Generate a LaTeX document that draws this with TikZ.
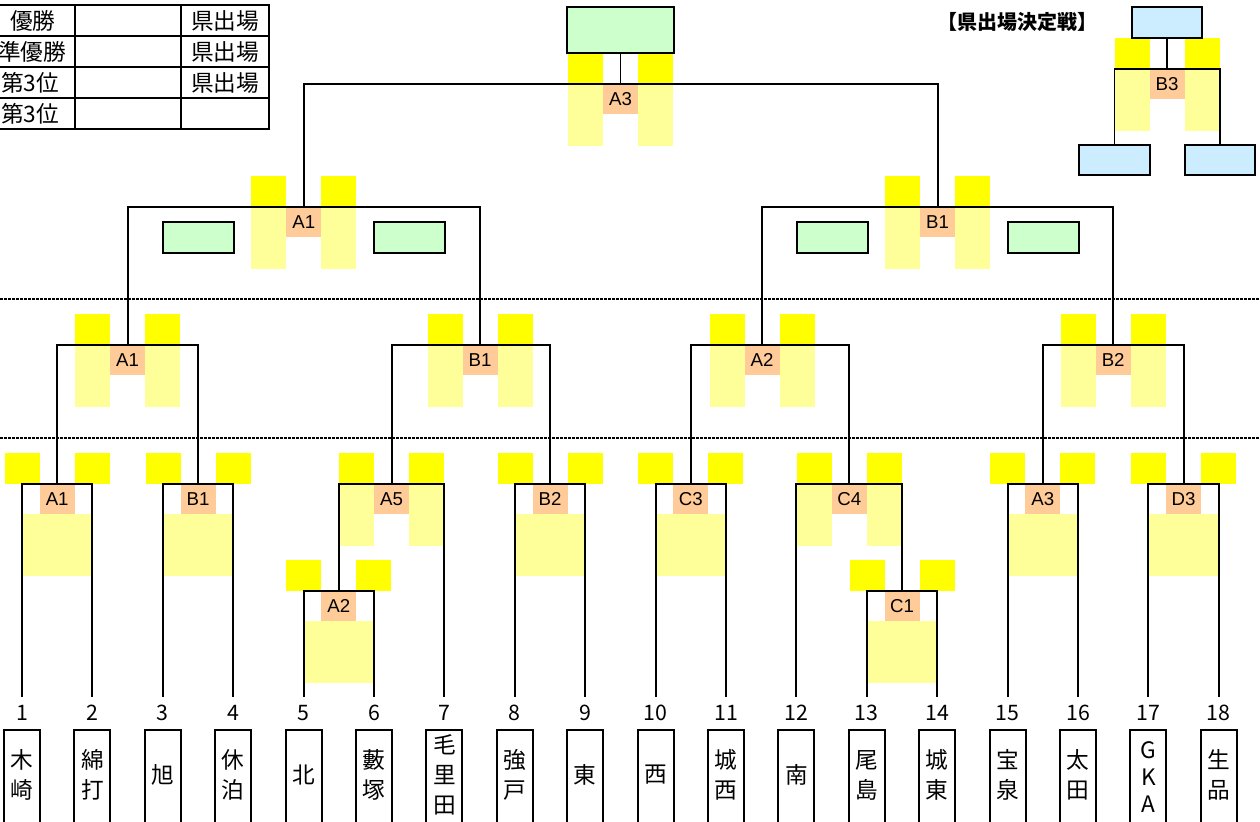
\documentclass[tikz,border=0pt]{standalone}
\usepackage{fontspec}
\setmainfont{Liberation Sans}
\newfontfamily\jp{Noto Sans CJK JP}
\definecolor{ylw}{HTML}{FFFF00}
\definecolor{pale}{HTML}{FFFF99}
\definecolor{lab}{HTML}{FFCC99}
\definecolor{grn}{HTML}{CCFFCC}
\definecolor{blu}{HTML}{CCECFF}
\newcommand\mtch[4]{%
  \fill[ylw] ({#2-52.5},{#3-31}) rectangle ({#2-17.5},#3);
  \fill[ylw] ({#2+17.5},{#3-31}) rectangle ({#2+52.5},#3);
  \fill[lab] ({#2-17.5},#3) rectangle ({#2+17.5},{#3+30});
  \coordinate (#1) at (#2,#3);
  \node[lbl] (#1L) at (#2,{#3+15}) {#4};}
\newcommand\paleU[2]{%
  \fill[pale] ({#1-52.5},#2) rectangle ({#1-17.5},{#2+62});
  \fill[pale] ({#1+17.5},#2) rectangle ({#1+52.5},{#2+62});}
\newcommand\paleL[3]{%
  \fill[pale] (#1,{#3+30}) rectangle (#2,{#3+92});}
\begin{document}
\begin{tikzpicture}[x=0.75pt,y=-0.75pt,
  ln/.style={line width=1.4pt,line join=miter},
  lbl/.style={font=\fontsize{14}{14}\selectfont,inner sep=0pt},
  nm/.style={font=\jp\fontsize{17}{22.5}\selectfont,align=center,inner sep=0pt},
  num/.style={font=\jp\fontsize{16}{16}\selectfont,inner sep=0pt},
  tbl/.style={font=\jp\fontsize{17}{17}\selectfont,inner sep=0pt},
  gbox/.style={draw,fill=grn,line width=1.4pt,inner sep=0pt,minimum width=53.25pt,minimum height=23.25pt},
  bbox/.style={draw,fill=blu,line width=1.4pt,inner sep=0pt,minimum width=53pt,minimum height=23pt},
  dotln/.style={line width=1.5pt,dash pattern=on 2.25pt off 0.75pt}]
\useasboundingbox (0,0) rectangle (1260,821);
\fill[white] (0,0) rectangle (1260,821);

% ---------- team coordinates
\foreach \i in {1,...,18} {\coordinate (T\i) at ({22+(\i-1)*70.4},697);}

% ---------- pale fills
\paleL{22}{92.4}{484}
\paleL{162.8}{233.2}{484}
\paleL{303.6}{374}{591}
\paleL{514.8}{585.2}{484}
\paleL{655.6}{726}{484}
\paleL{866.8}{937.2}{591}
\paleL{1007.6}{1078}{484}
\paleL{1148.4}{1218.8}{484}
\paleU{391.6}{484}
\paleU{849.2}{484}
\paleU{127.6}{345}
\paleU{480}{345}
\paleU{762}{345}
\paleU{1113.2}{345}
\paleU{303.8}{207}
\paleU{937.6}{207}
\paleU{620.5}{84}
\paleU{1167}{69}

% ---------- matches
\mtch{mA1}{57.2}{484}{A1}
\mtch{mB1}{198}{484}{B1}
\mtch{mA2}{338.8}{591}{A2}
\mtch{mA5}{391.6}{484}{A5}
\mtch{mB2}{550}{484}{B2}
\mtch{mC3}{690.8}{484}{C3}
\mtch{mC1}{902}{591}{C1}
\mtch{mC4}{849.2}{484}{C4}
\mtch{mA3}{1042.8}{484}{A3}
\mtch{mD3}{1183.6}{484}{D3}
\mtch{qA1}{127.6}{345}{A1}
\mtch{qB1}{480}{345}{B1}
\mtch{qA2}{762}{345}{A2}
\mtch{qB2}{1113.2}{345}{B2}
\mtch{sA1}{303.8}{207}{A1}
\mtch{sB1}{937.6}{207}{B1}
\mtch{fA3}{620.5}{84}{A3}
\mtch{rB3}{1167}{69}{B3}

% ---------- boxes
\node[gbox,minimum width=80.25pt,minimum height=34.5pt] (win) at (620.5,30) {};
\node[gbox] (g1) at (198.5,237.5) {};
\node[gbox] (g2) at (409.5,237.5) {};
\node[gbox] (g3) at (832.5,237.5) {};
\node[gbox] (g4) at (1043.5,237.5) {};
\node[bbox,minimum width=52.5pt,minimum height=23.25pt] (bT) at (1167,22.5) {};
\node[bbox,minimum width=53.25pt,minimum height=22.5pt] (bL) at (1114.5,160) {};
\node[bbox,minimum width=52.5pt,minimum height=22.5pt] (bR) at (1220,160) {};
\node[font=\jp\bfseries\fontsize{15}{15}\selectfont,inner sep=0pt] (ttl) at (1017,22) {【県出場決定戦】};

% ---------- dotted separators
\coordinate (d1l) at (0,298.5); \coordinate (d1r) at (1260,298.5);
\coordinate (d2l) at (0,437.5); \coordinate (d2r) at (1260,437.5);
\draw[dotln] (d1l) -- (d1r);
\draw[dotln] (d2l) -- (d2r);

% ---------- bracket lines
\draw[ln] (T1) |- (mA1) -| (T2);
\draw[ln] (T3) |- (mB1) -| (T4);
\draw[ln] (T5) |- (mA2) -| (T6);
\draw[ln] (mA2) |- (mA5) -| (T7);
\draw[ln] (T8) |- (mB2) -| (T9);
\draw[ln] (T10) |- (mC3) -| (T11);
\draw[ln] (T13) |- (mC1) -| (T14);
\draw[ln] (T12) |- (mC4) -| (mC1);
\draw[ln] (T15) |- (mA3) -| (T16);
\draw[ln] (T17) |- (mD3) -| (T18);
\draw[ln] (mA1) |- (qA1) -| (mB1);
\draw[ln] (mA5) |- (qB1) -| (mB2);
\draw[ln] (mC3) |- (qA2) -| (mC4);
\draw[ln] (mA3) |- (qB2) -| (mD3);
\draw[ln] (qA1) |- (sA1) -| (qB1);
\draw[ln] (qA2) |- (sB1) -| (qB2);
\draw[ln] (sA1) |- (fA3) -| (sB1);
\draw[ln] (fA3) -- (win.south);
\draw[ln] (bL.north) |- (rB3) -| (bR.north);
\draw[ln] (rB3) -- (bT.south);

% ---------- team numbers and name boxes
\foreach \i in {1,...,18} {
  \node[num] (k\i) at ({22+(\i-1)*70.4},713) {\i};
  \draw[ln] ({22+(\i-1)*70.4-18},835) -- ({22+(\i-1)*70.4-18},730) -- ({22+(\i-1)*70.4+18},730) -- ({22+(\i-1)*70.4+18},835);
}
\node[nm] (n1) at (22,775) {木\\崎};
\node[nm] (n2) at (92.4,775) {綿\\打};
\node[nm] (n3) at (162.8,775) {旭};
\node[nm] (n4) at (233.2,775) {休\\泊};
\node[nm] (n5) at (303.6,775) {北};
\node[nm] (n6) at (374,775) {藪\\塚};
\node[nm] (n7) at (444.4,775) {毛\\里\\田};
\node[nm] (n8) at (514.8,775) {強\\戸};
\node[nm] (n9) at (585.2,775) {東};
\node[nm] (n10) at (655.6,775) {西};
\node[nm] (n11) at (726,775) {城\\西};
\node[nm] (n12) at (796.4,775) {南};
\node[nm] (n13) at (866.8,775) {尾\\島};
\node[nm] (n14) at (937.2,775) {城\\東};
\node[nm] (n15) at (1007.6,775) {宝\\泉};
\node[nm] (n16) at (1078,775) {太\\田};
\node[nm,font=\jp\fontsize{17}{20}\selectfont] (n17) at (1148.4,777) {G\\K\\A};
\node[nm] (n18) at (1218.8,775) {生\\品};

% ---------- result table
\draw[ln] (-10,5) rectangle (269,129);
\draw[ln] (-10,36) -- (269,36);
\draw[ln] (-10,67) -- (269,67);
\draw[ln] (-10,98) -- (269,98);
\draw[ln] (75,5) -- (75,129);
\draw[ln] (181,5) -- (181,129);
\node[tbl] (r1) at (33,20.5) {優勝};
\node[tbl] (r2) at (32,51.5) {準優勝};
\node[tbl] (r3) at (30,82.5) {第3位};
\node[tbl] (r4) at (30,113.5) {第3位};
\node[tbl] (c1) at (225,20.5) {県出場};
\node[tbl] (c2) at (225,51.5) {県出場};
\node[tbl] (c3) at (225,82.5) {県出場};
\end{tikzpicture}
\end{document}
